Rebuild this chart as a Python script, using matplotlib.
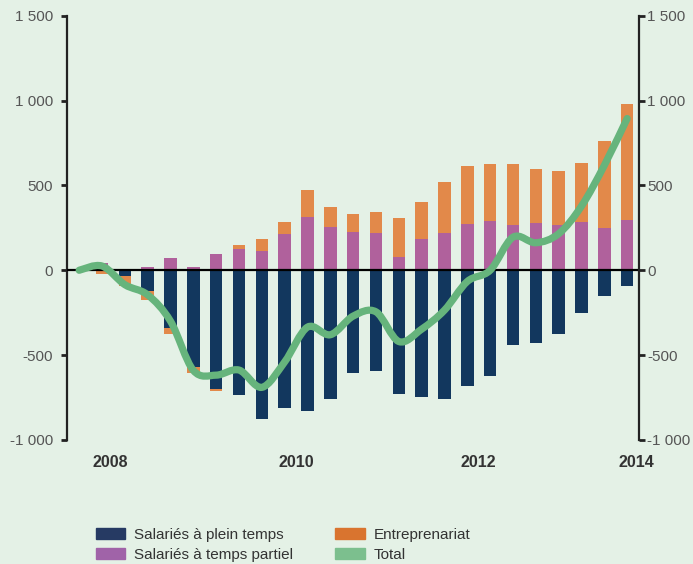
import numpy as np
import matplotlib
matplotlib.use("Agg")
import matplotlib.pyplot as plt
from matplotlib.path import Path
from matplotlib.patches import PathPatch, Patch

plt.rcParams['font.family'] = ['Liberation Sans', 'DejaVu Sans']

# quarterly values, 2008 Q1 .. 2013 Q4 (thousands)
quarters = np.arange(24)
plein = [0, -35, -122, -340, -570, -700, -737, -876, -814, -831, -757, -608,
         -596, -727, -749, -759, -684, -621, -439, -426, -376, -250, -149, -90]
partiel = [45, 0, 22, 70, 22, 94, 126, 112, 216, 315, 255, 223,
           217, 81, 186, 217, 272, 293, 266, 278, 264, 286, 249, 294]
entre = [-22, -55, -53, -35, -37, -12, 23, 73, 68, 157, 120, 106,
         126, 224, 214, 304, 345, 336, 361, 316, 322, 345, 513, 687]
# total line starts one quarter earlier at zero
total_x = np.arange(-1, 24)
total = [0, 25, -85, -145, -300, -590, -618, -588, -690, -540, -335, -380, -270,
         -245, -420, -347, -235, -66, 0, 195, 162, 215, 378, 618, 894]

year_pos = [0.35, 8.5, 16.47, 23.4]
year_labels = ['2008', '2010', '2012', '2014']
yticks = [-1000, -500, 0, 500, 1000, 1500]
ylabels = ['-1 000', '-500', '0', '500', '1 000', '1 500']

c_plein = '#12375e'
c_partiel = '#b0619c'
c_entre = '#e2894a'
c_total = '#66b47c'
bg = '#e4f1e6'

fig = plt.figure(figsize=(6.93, 5.64), dpi=100, facecolor=bg)
ax = fig.add_axes([0.0967, 0.2199, 0.8254, 0.7523], facecolor=bg)

plein_a = np.array(plein)
partiel_a = np.array(partiel)
entre_a = np.array(entre)
entre_bottom = np.where(entre_a > 0, partiel_a, plein_a)

w = 0.55
ax.bar(quarters, plein_a, width=w, color=c_plein, zorder=2)
ax.bar(quarters, partiel_a, width=w, color=c_partiel, zorder=2)
ax.bar(quarters, entre_a, width=w, bottom=entre_bottom, color=c_entre, zorder=2)
ax.axhline(0, color='black', lw=1.6, zorder=3)

# smooth total curve (Catmull-Rom through the points, as bezier path)
pts = np.column_stack([total_x, total]).astype(float)
ext = np.vstack([pts[0], pts, pts[-1]])
verts = [pts[0]]
codes = [Path.MOVETO]
for i in range(1, len(ext) - 2):
    p0, p1, p2, p3 = ext[i - 1], ext[i], ext[i + 1], ext[i + 2]
    verts += [p1 + (p2 - p0) / 6, p2 - (p3 - p1) / 6, p2]
    codes += [Path.CURVE4] * 3
ax.add_patch(PathPatch(Path(verts, codes), fill=False, edgecolor=c_total,
                       lw=5.2, capstyle='round', joinstyle='round', zorder=4))

ax.set_xlim(-1.533, 23.52)
ax.set_ylim(-1000, 1500)
for s in ['top', 'bottom', 'right']:
    ax.spines[s].set_visible(False)
ax.spines['left'].set_linewidth(1.6)
ax.spines['left'].set_color('#222222')

ax.set_yticks(yticks)
ax.set_yticklabels(ylabels)
ax.tick_params(axis='y', direction='out', length=4, width=2, color='#222222',
               labelsize=11, labelcolor='#555555', pad=6)

# right axis, same scale, labels closer to the spine
ax2 = ax.twinx()
ax2.set_ylim(ax.get_ylim())
ax2.set_yticks(yticks)
ax2.set_yticklabels(ylabels)
for s in ['top', 'bottom', 'left']:
    ax2.spines[s].set_visible(False)
ax2.spines['right'].set_linewidth(1.6)
ax2.spines['right'].set_color('#222222')
ax2.tick_params(axis='y', direction='out', length=4, width=2, color='#222222',
                labelsize=11, labelcolor='#555555', pad=2)

ax.set_xticks(year_pos)
ax.set_xticklabels(year_labels, fontweight='bold', color='#333333')
ax.tick_params(axis='x', length=0, labelsize=11.5, pad=11)

handles = [Patch(color='#263a63', label='Salariés à plein temps'),
           Patch(color='#a063a8', label='Salariés à temps partiel'),
           Patch(color='#d9742f', label='Entreprenariat'),
           Patch(color='#7cbf8e', label='Total')]
fig.legend(handles=handles, ncol=2, loc='lower left', bbox_to_anchor=(0.118, -0.02),
           frameon=False, fontsize=11, handlelength=1.95, handleheight=0.7,
           handletextpad=0.6, columnspacing=2.7, labelspacing=0.35,
           labelcolor='#333333')

fig.savefig('out.png', dpi=100, facecolor=bg)
